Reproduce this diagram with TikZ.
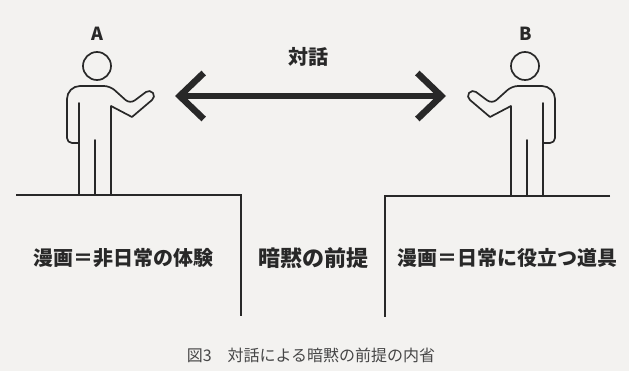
\documentclass[tikz,border=0pt]{standalone}
\usepackage{fontspec}
\newfontfamily\jp{Noto Sans CJK JP}
\usetikzlibrary{arrows.meta}
\definecolor{paper}{RGB}{243,242,240}
\definecolor{ink}{RGB}{40,40,40}
\definecolor{capink}{RGB}{70,70,70}
\tikzset{
  figline/.style={draw=ink, line width=1.7pt, line cap=round, line join=round},
  floorline/.style={draw=ink, line width=2.8pt, line join=miter},
  talkarrow/.style={draw=ink, line width=6pt,
    {Straight Barb[length=24pt,width=46pt,line width=6.5pt]}-{Straight Barb[length=24pt,width=46pt,line width=6.5pt]}},
  letter/.style={font=\jp\bfseries\fontsize{18}{18}\selectfont, text=ink, inner sep=0pt},
  label/.style={font=\jp\bfseries\fontsize{20}{20}\selectfont, text=ink, inner sep=0pt},
  midlabel/.style={font=\jp\bfseries\fontsize{22}{22}\selectfont, text=ink, inner sep=0pt},
  caption/.style={font=\jp\fontsize{16}{16}\selectfont, text=capink, inner sep=0pt},
  person/.pic={
    % head
    \draw[figline] (97,66) circle[radius=14];
    % body outline with raised right hand
    \draw[figline] (79,143) [rounded corners=5pt] -- (67,143) [rounded corners=13pt] -- (67,86)
      [rounded corners=6pt] -- (110,86) -- (130,104) [sharp corners] -- (146,92)
      arc[start angle=-126.87, end angle=53.13, radius=5] -- (132,117) -- (111,106) -- (111,195);
    % inner arm line and legs
    \draw[figline] (79,103) -- (79,195);
    \draw[figline] (95,140) -- (95,195);
  }
}
\begin{document}
\begin{tikzpicture}[x=1pt, y=-1pt]
  \fill[paper] (0,0) rectangle (629,371);
  \useasboundingbox (0,0) rectangle (629,371);

  % the two speakers, B mirrored
  \pic at (0,0) {person};
  \pic[xscale=-1] at (622,0) {person};
  \node[letter] (la) at (97,34) {A};
  \node[letter] (lb) at (526,34) {B};

  % dialogue arrow
  \coordinate (dl) at (175,96);
  \coordinate (dr) at (446,96);
  \draw[talkarrow] (dl) -- (dr);
  \node[label] (talk) at (308,57) {対話};

  % the two standpoints
  \draw[floorline] (16,195) -- (241,195) -- (241,316);
  \draw[floorline] (610,196) -- (385,196) -- (385,317);

  \node[label] (left) at (123,258) {漫画＝非日常の体験};
  \node[midlabel] (mid) at (313,258) {暗黙の前提};
  \node[label] (right) at (507,258) {漫画＝日常に役立つ道具};

  \node[caption] (cap) at (311,355) {図3　対話による暗黙の前提の内省};
\end{tikzpicture}
\end{document}
